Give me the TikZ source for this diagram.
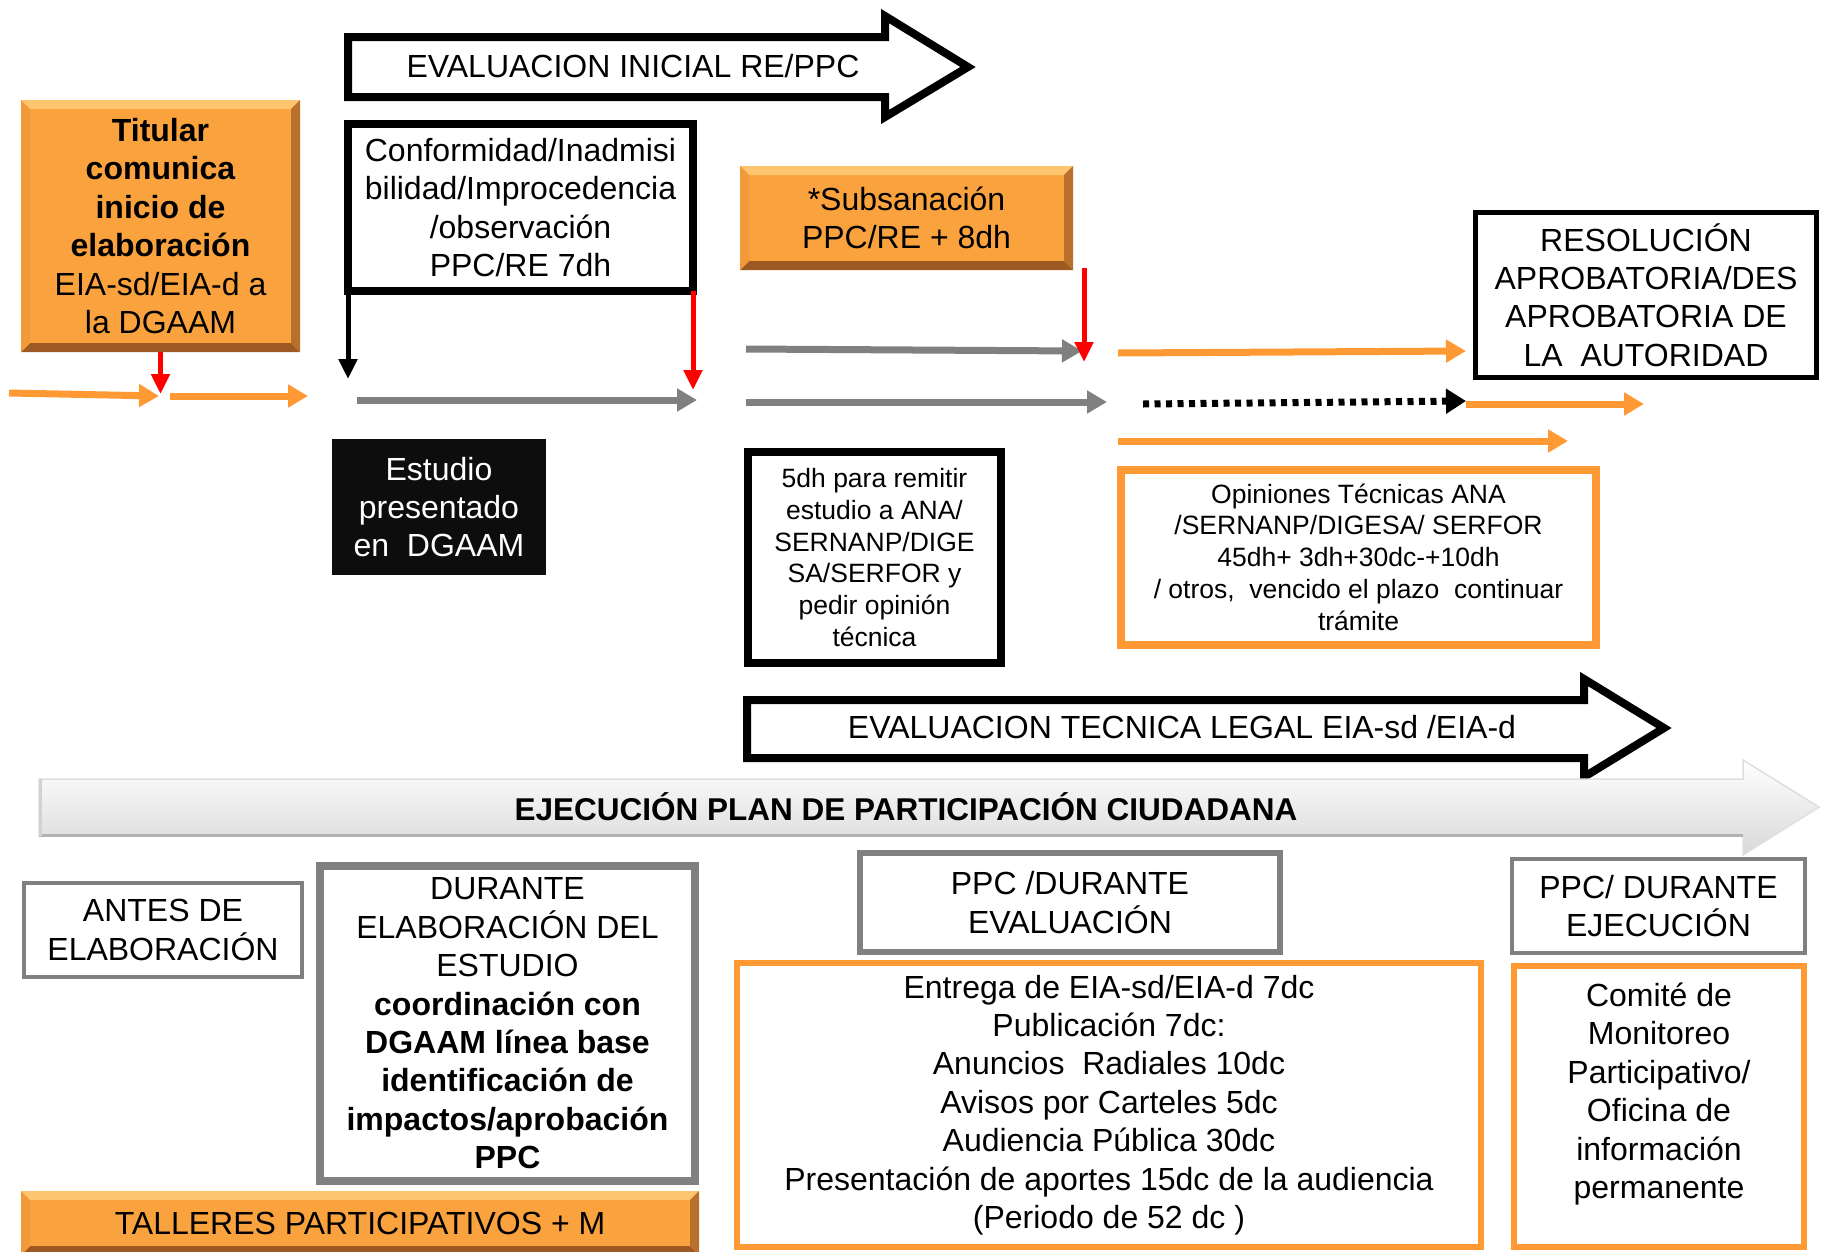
\documentclass[tikz,border=0pt]{standalone}
\usepackage{fontspec}
\setmainfont{Liberation Sans}
\usetikzlibrary{arrows.meta,calc}
\definecolor{org}{HTML}{FF9933}
\definecolor{bvfill}{HTML}{FAA23E}
\definecolor{bvtop}{HTML}{FDC66E}
\definecolor{bvbot}{HTML}{9C5A22}
\definecolor{bvleft}{HTML}{F29A3A}
\definecolor{bvright}{HTML}{B8702C}
\definecolor{grayln}{HTML}{808080}
\definecolor{redln}{HTML}{FF0000}
\newcommand{\mybevelw}{9pt}
\begin{document}
\begin{tikzpicture}[x=1pt,y=-1pt,
  txt/.style={font=\fontsize{32}{38.4}\selectfont, align=center},
  smalltxt/.style={font=\fontsize{26.5}{31.8}\selectfont, align=center},
  box/.style={rectangle, inner sep=0pt, outer sep=0pt},
  bevel/.style={box, fill=bvfill, path picture={
    \coordinate (ppnw) at (path picture bounding box.north west);
    \coordinate (ppne) at (path picture bounding box.north east);
    \coordinate (ppsw) at (path picture bounding box.south west);
    \coordinate (ppse) at (path picture bounding box.south east);
    \fill[bvtop] (ppnw) -- (ppne) -- ([xshift=-\mybevelw,yshift=-\mybevelw]ppne) -- ([xshift=\mybevelw,yshift=-\mybevelw]ppnw) -- cycle;
    \fill[bvbot] (ppsw) -- (ppse) -- ([xshift=-\mybevelw,yshift=\mybevelw]ppse) -- ([xshift=\mybevelw,yshift=\mybevelw]ppsw) -- cycle;
    \fill[bvleft] (ppnw) -- ([xshift=\mybevelw,yshift=-\mybevelw]ppnw) -- ([xshift=\mybevelw,yshift=\mybevelw]ppsw) -- (ppsw) -- cycle;
    \fill[bvright] (ppne) -- ([xshift=-\mybevelw,yshift=-\mybevelw]ppne) -- ([xshift=-\mybevelw,yshift=\mybevelw]ppse) -- (ppse) -- cycle;
  }},
  bigarrow/.style={draw=black, line width=8pt, fill=white, line join=miter},
  oarr/.style={draw=org, line width=7pt, -{Triangle[length=20pt,width=22pt]}},
  garr/.style={draw=grayln, line width=7pt, -{Triangle[length=20pt,width=22pt]}},
  rarr/.style={draw=redln, line width=5pt, -{Triangle[length=20pt,width=18pt]}},
  karr/.style={draw=black, line width=5pt, -{Triangle[length=20pt,width=18pt]}},
  dotarr/.style={draw=black, line width=7pt, dash pattern=on 6pt off 5.5pt, -{Triangle[length=20pt,width=24pt]}}
]
\fill[white] (0,0) rectangle (1821,1251);
\useasboundingbox (0,0) rectangle (1821,1251);

% top outlined arrow
\draw[bigarrow] (348,37) -- (885,37) -- (885,16) -- (968,67) -- (885,117) -- (885,97) -- (348,97) -- cycle;
\node (evalini) [txt] at (633,66) {EVALUACION INICIAL RE/PPC};

% boxes top part
\node (titular) [bevel, minimum width=279pt, minimum height=252pt, txt] at (160.5,226)
  {\textbf{Titular}\\\textbf{comunica}\\\textbf{inicio de}\\\textbf{elaboración}\\EIA-sd/EIA-d a\\la DGAAM};
\node (conf) [box, draw=black, line width=8pt, minimum width=345pt, minimum height=167pt, txt] at (520.5,207.5)
  {Conformidad/Inadmisi\\bilidad/Improcedencia\\/observación\\PPC/RE 7dh};
\node (estudio) [box, fill=black!95, text=white, minimum width=214pt, minimum height=136pt, txt] at (439,507)
  {Estudio\\presentado\\en\ \ DGAAM};
\node (subs) [bevel, minimum width=333pt, minimum height=104pt, txt] at (906.5,218)
  {*Subsanación\\PPC/RE + 8dh};
\node (resol) [box, draw=black, line width=5pt, minimum width=341pt, minimum height=165pt, txt] at (1646,295)
  {RESOLUCIÓN\\APROBATORIA/DES\\APROBATORIA DE\\LA\ \ AUTORIDAD};
\node (cinco) [box, draw=black, line width=8pt, minimum width=253pt, minimum height=211pt, smalltxt] at (874.5,557.5)
  {5dh para remitir\\estudio a ANA/\\SERNANP/DIGE\\SA/SERFOR y\\pedir opinión\\técnica};
\node (opin) [box, draw=org, line width=8pt, minimum width=475pt, minimum height=175pt, smalltxt] at (1358.5,557)
  {Opiniones Técnicas ANA\\/SERNANP/DIGESA/ SERFOR\\45dh+ 3dh+30dc-+10dh\\/ otros,\ \ vencido el plazo\ \ continuar\\trámite};

% connectors top part
\coordinate (o1s) at (9,393);   \coordinate (o1e) at (159,396);
\coordinate (o2s) at (170,396); \coordinate (o2e) at (308,396);
\coordinate (r1e) at (160.5,394);
\coordinate (k1e) at (348,379);
\coordinate (r2e) at (693,390);
\coordinate (g1s) at (357,400); \coordinate (g1e) at (697,400);
\coordinate (r3s) at (1084,268); \coordinate (r3e) at (1084,362);
\coordinate (g2s) at (746,349); \coordinate (g2e) at (1082,351);
\coordinate (g3s) at (746,402); \coordinate (g3e) at (1107,402);
\coordinate (o3s) at (1118,353); \coordinate (o3e) at (1466,351);
\coordinate (d1s) at (1143,404); \coordinate (d1e) at (1466,401);
\coordinate (o4s) at (1466,404); \coordinate (o4e) at (1644,404);
\coordinate (o5s) at (1118,441); \coordinate (o5e) at (1568,441);

\draw[oarr] (o1s) -- (o1e);
\draw[oarr] (o2s) -- (o2e);
\draw[rarr] (titular.south) -- (r1e);
\draw[karr] (conf.south west) -- (k1e);
\draw[rarr] (conf.south east) -- (r2e);
\draw[garr] (g1s) -- (g1e);
\draw[garr] (g2s) -- (g2e);
\draw[garr] (g3s) -- (g3e);
\draw[rarr] (r3s) -- (r3e);
\draw[oarr] (o3s) -- (o3e);
\draw[dotarr] (d1s) -- (d1e);
\draw[oarr] (o4s) -- (o4e);
\draw[oarr] (o5s) -- (o5e);

% second outlined arrow
\draw[bigarrow] (747,700) -- (1584,700) -- (1584,679) -- (1664,728) -- (1584,777) -- (1584,758) -- (747,758) -- cycle;
\node (evaltec) [txt] at (1182,727) {EVALUACION TECNICA LEGAL EIA-sd /EIA-d};

% gradient arrow
\shade[top color=white, bottom color=gray!30]
  (39,779) -- (1743,779) -- (1743,760) -- (1819,807) -- (1743,855) -- (1743,836) -- (39,836) -- cycle;
\draw[gray!25, line width=1.5pt, line join=miter]
  (39,779) -- (1743,779) -- (1743,760) -- (1819,807) -- (1743,855) -- (1743,836) -- (39,836) -- cycle;
\draw[gray!60, line width=3pt] (39,835) -- (1743,835);
\draw[gray!35, line width=3pt] (40,779) -- (40,836);
\node (ejec) [font=\fontsize{31.5}{38}\selectfont\bfseries] at (906,807) {EJECUCIÓN PLAN DE PARTICIPACIÓN CIUDADANA};

% bottom boxes
\node (antes) [box, draw=grayln, line width=4pt, minimum width=278pt, minimum height=94pt, txt] at (163,930)
  {ANTES DE\\ELABORACIÓN};
\node (durante) [box, draw=grayln, line width=8pt, minimum width=375pt, minimum height=315pt, txt] at (507.5,1023.5)
  {DURANTE\\ELABORACIÓN DEL\\ESTUDIO\\\textbf{coordinación con}\\\textbf{DGAAM línea base}\\\textbf{identificación de}\\\textbf{impactos/aprobación}\\\textbf{PPC}};
\node (talleres) [bevel, minimum width=678pt, minimum height=64pt, txt] at (360,1223)
  {TALLERES PARTICIPATIVOS + M};
\node (ppceval) [box, draw=grayln, line width=6pt, minimum width=420pt, minimum height=99pt, txt] at (1070,902.5)
  {PPC /DURANTE\\EVALUACIÓN};
\node (entrega) [box, draw=org, line width=6pt, minimum width=744pt, minimum height=284pt, txt] at (1109,1105)
  {Entrega de EIA-sd/EIA-d 7dc\\Publicación 7dc:\\Anuncios\ \ Radiales 10dc\\Avisos por Carteles 5dc\\Audiencia Pública 30dc\\Presentación de aportes 15dc de la audiencia\\(Periodo de 52 dc )};
\node (ppcejec) [box, draw=grayln, line width=4pt, minimum width=293pt, minimum height=94pt, txt] at (1658.5,906)
  {PPC/ DURANTE\\EJECUCIÓN};
\node (comite) [box, draw=org, line width=6pt, minimum width=290pt, minimum height=281pt] at (1659,1106.5) {};
\node (comitetxt) [txt] at (1659,1094)
  {Comité de\\Monitoreo\\Participativo/\\Oficina de\\información\\permanente};
\end{tikzpicture}
\end{document}
